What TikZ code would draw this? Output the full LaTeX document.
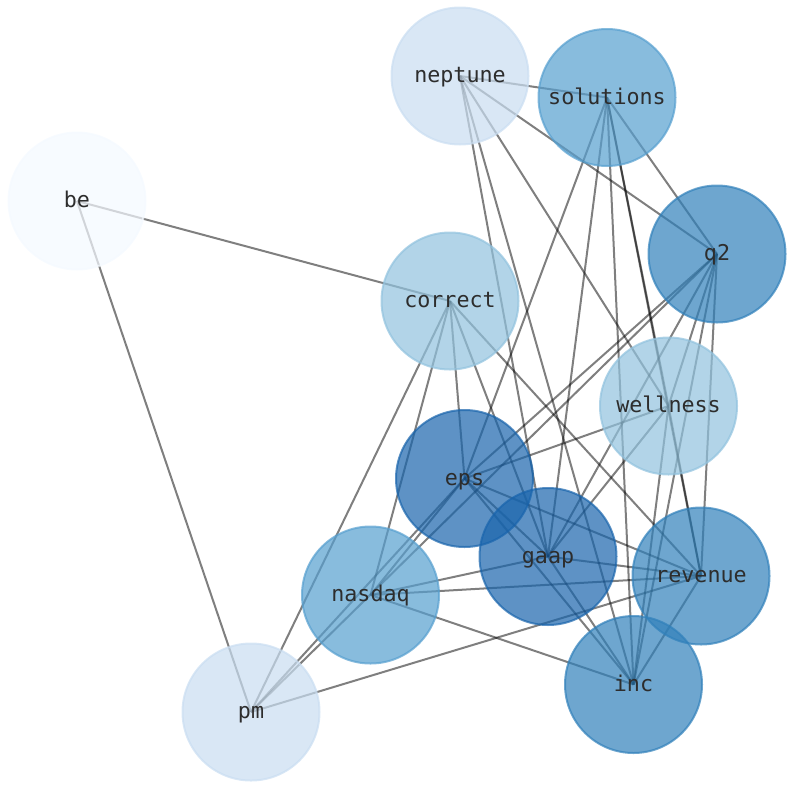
\documentclass[tikz,border=0pt]{standalone}
\usepackage{fontspec}
\setmonofont{DejaVu Sans Mono}
\usetikzlibrary{backgrounds}
\definecolor{cA}{RGB}{25,100,172}
\definecolor{cB}{RGB}{48,128,186}
\definecolor{cC}{RGB}{86,159,207}
\definecolor{cD}{RGB}{145,194,222}
\definecolor{cE}{RGB}{201,221,241}
\definecolor{cF}{RGB}{244,249,255}
\definecolor{lbl}{RGB}{45,45,45}
\begin{document}
\begin{tikzpicture}[x=1pt,y=-1pt,
  vert/.style={circle, minimum size=137pt, inner sep=0pt, line width=2pt,
    fill opacity=0.7, draw opacity=0.7, text opacity=1, text=lbl,
    text height=15pt, text depth=2pt,
    font=\fontsize{21.7}{26}\selectfont\ttfamily},
  link/.style={draw=black, draw opacity=0.5, line width=2pt}]
\useasboundingbox (0,0) rectangle (794,790);
\node[vert, fill=cE, draw=cE] (neptune) at (460,76) {neptune};
\node[vert, fill=cC, draw=cC] (solutions) at (607,97.5) {solutions};
\node[vert, fill=cF, draw=cF] (be) at (77,201) {be};
\node[vert, fill=cB, draw=cB] (q2) at (717,254) {q2};
\node[vert, fill=cD, draw=cD] (correct) at (450,301) {correct};
\node[vert, fill=cD, draw=cD] (wellness) at (668.5,406) {wellness};
\node[vert, fill=cA, draw=cA] (eps) at (464.5,478.5) {eps};
\node[vert, fill=cA, draw=cA] (gaap) at (548,556.5) {gaap};
\node[vert, fill=cB, draw=cB] (revenue) at (701,576) {revenue};
\node[vert, fill=cC, draw=cC] (nasdaq) at (370.5,595) {nasdaq};
\node[vert, fill=cB, draw=cB] (inc) at (633.5,684.5) {inc};
\node[vert, fill=cE, draw=cE] (pm) at (251,712) {pm};
\begin{scope}[on background layer]
\foreach \a/\b in {neptune/solutions, neptune/q2, neptune/gaap, neptune/inc, neptune/wellness,
  solutions/eps, solutions/gaap, solutions/inc, solutions/wellness, solutions/revenue, solutions/q2,
  be/correct, be/pm,
  q2/eps, q2/pm, q2/gaap, q2/wellness, q2/inc, q2/revenue,
  correct/pm, correct/nasdaq, correct/eps, correct/gaap, correct/revenue,
  wellness/eps, wellness/gaap, wellness/inc, wellness/revenue,
  eps/pm, eps/nasdaq, eps/revenue, eps/inc, eps/gaap,
  gaap/nasdaq, gaap/revenue, gaap/inc,
  revenue/nasdaq, revenue/pm, revenue/inc, nasdaq/inc}
  \draw[link] (\a.center) -- (\b.center);
\end{scope}
\end{tikzpicture}
\end{document}
